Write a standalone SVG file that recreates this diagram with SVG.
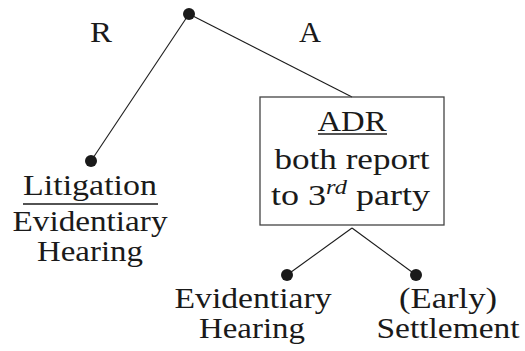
<svg xmlns="http://www.w3.org/2000/svg" width="525" height="351" viewBox="0 0 525 351">
<style>
.t{font-family:"Liberation Serif","DejaVu Serif",serif;font-size:29.5px;fill:#1a1a1a;text-anchor:middle}
.dot{fill:#1a1a1a}
.edge{stroke:#1a1a1a;stroke-width:1.1;fill:none}
.ul{stroke:#1a1a1a;stroke-width:1.6}
</style>
<rect width="525" height="351" fill="#fff"/>
<g id="connectors">
<line class="edge" x1="189" y1="14" x2="91" y2="161"/>
<line class="edge" x1="189" y1="14" x2="352" y2="97"/>
<line class="edge" x1="352" y1="228" x2="287" y2="275"/>
<line class="edge" x1="352" y1="228" x2="416" y2="275"/>
</g>
<g id="edge-labels">
<text class="t" x="101" y="42" textLength="22" lengthAdjust="spacingAndGlyphs">R</text>
<text class="t" x="310" y="42" textLength="22" lengthAdjust="spacingAndGlyphs">A</text>
</g>
<g id="root"><circle class="dot" cx="189" cy="14" r="6"/></g>
<g id="litigation">
<circle class="dot" cx="91" cy="161" r="6"/>
<text class="t" x="90" y="195" textLength="134" lengthAdjust="spacingAndGlyphs">Litigation</text>
<line class="ul" x1="23" y1="204" x2="158" y2="204"/>
<text class="t" x="90" y="231" textLength="155" lengthAdjust="spacingAndGlyphs">Evidentiary</text>
<text class="t" x="90" y="261" textLength="106" lengthAdjust="spacingAndGlyphs">Hearing</text>
</g>
<g id="adr">
<rect x="260" y="97" width="184" height="128" fill="none" stroke="#444" stroke-width="1.3"/>
<text class="t" x="352" y="131" textLength="69" lengthAdjust="spacingAndGlyphs">ADR</text>
<line class="ul" x1="318" y1="134" x2="387" y2="134"/>
<text class="t" x="352" y="169" textLength="155" lengthAdjust="spacingAndGlyphs">both report</text>
<text class="t" x="271" y="205" style="text-anchor:start" textLength="159" lengthAdjust="spacingAndGlyphs">to 3<tspan font-size="20" font-style="italic" dy="-11">rd</tspan><tspan dy="11"> party</tspan></text>
</g>
<g id="evidentiary-hearing">
<circle class="dot" cx="287" cy="275" r="6"/>
<text class="t" x="253" y="308" textLength="157" lengthAdjust="spacingAndGlyphs">Evidentiary</text>
<text class="t" x="252" y="338" textLength="106" lengthAdjust="spacingAndGlyphs">Hearing</text>
</g>
<g id="settlement">
<circle class="dot" cx="416" cy="275" r="6"/>
<text class="t" x="448" y="308" textLength="98" lengthAdjust="spacingAndGlyphs">(Early)</text>
<text class="t" x="448" y="338" textLength="143" lengthAdjust="spacingAndGlyphs">Settlement</text>
</g>
</svg>
